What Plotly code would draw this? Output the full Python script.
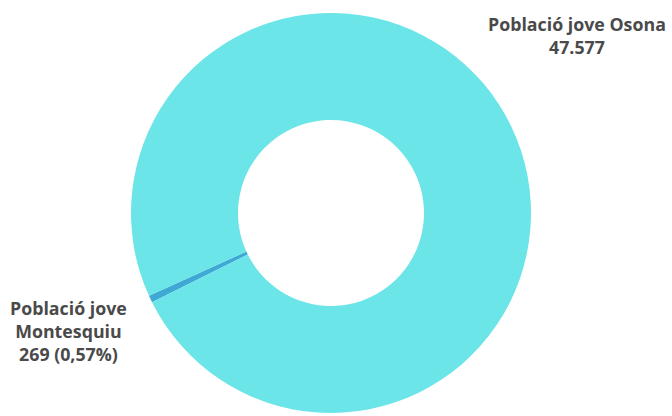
import plotly.graph_objects as go

labels = ["Població jove Montesquiu", "Població jove Osona"]
values = [269, 47577]
colors = ["#3FA9D5", "#6CE5E8"]
label_texts = ["Població jove<br>Montesquiu<br>269 (0,57%)", "Població jove Osona<br>47.577"]

W, H = 672, 416
cx, cy, r = 331, 213, 200

fig = go.Figure(go.Pie(
    labels=labels,
    values=values,
    marker=dict(colors=colors, line=dict(width=0)),
    hole=0.465,
    sort=False,
    direction="clockwise",
    rotation=243.5,
    textinfo="none",
    hoverinfo="label+value",
    showlegend=False,
    domain=dict(x=[(cx - r) / W, (cx + r) / W], y=[1 - (cy + r) / H, 1 - (cy - r) / H]),
))

font = dict(family="Open Sans", size=17.8, color="#4A4A4A")
fig.add_annotation(x=577 / W, y=1 - 35 / H, xref="paper", yref="paper",
                   text="<b>" + label_texts[1].replace("<br>", "</b><br><b>") + "</b>",
                   showarrow=False, align="center", xanchor="center", yanchor="middle", font=font)
fig.add_annotation(x=68 / W, y=1 - 331 / H, xref="paper", yref="paper",
                   text="<b>" + label_texts[0].replace("<br>", "</b><br><b>") + "</b>",
                   showarrow=False, align="center", xanchor="center", yanchor="middle", font=font)

fig.update_layout(width=W, height=H, margin=dict(l=0, r=0, t=0, b=0),
                  paper_bgcolor="white", plot_bgcolor="white")
fig.write_html("out.html", config={"displayModeBar": False},
               post_script="document.body.style.margin='0';document.body.style.overflow='hidden';")
